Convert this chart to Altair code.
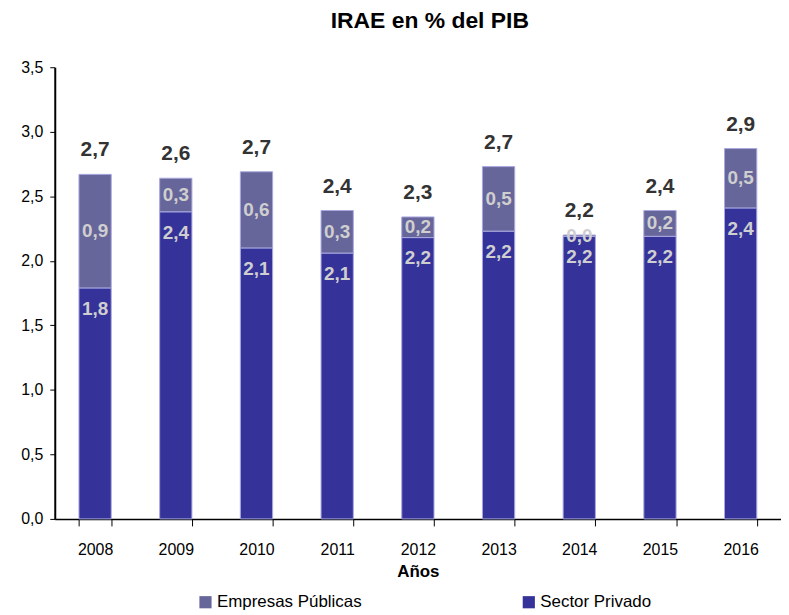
import altair as alt
import pandas as pd

years = ["2008", "2009", "2010", "2011", "2012", "2013", "2014", "2015", "2016"]
sector_privado = [1.79, 2.38, 2.10, 2.06, 2.18, 2.23, 2.19, 2.19, 2.41]
empresas_publicas = [0.88, 0.26, 0.59, 0.33, 0.16, 0.50, 0.01, 0.20, 0.46]
series_names = ["Empresas Públicas", "Sector Privado"]
series_colors = ["#67669a", "#35339a"]
y_ticks = [0, 0.5, 1.0, 1.5, 2.0, 2.5, 3.0, 3.5]

FONT = "Liberation Sans"

long_rows = []
for y, p, e in zip(years, sector_privado, empresas_publicas):
    long_rows.append({"year": y, "serie": "Sector Privado", "value": p, "ord": 0})
    long_rows.append({"year": y, "serie": "Empresas Públicas", "value": e, "ord": 1})
long_df = pd.DataFrame(long_rows)
wide_df = pd.DataFrame({"year": years, "priv": sector_privado, "pub": empresas_publicas})

x_axis = alt.Axis(
    title="Años", titleFontSize=17, titleFontWeight="bold", titleFont=FONT,
    titleColor="black", titlePadding=6,
    labelAngle=0, labelFontSize=16, labelFont=FONT, labelColor="black",
    labelPadding=16, tickBand="extent", tickSize=7, tickColor="black",
    domainColor="black", domainWidth=1.5,
)
y_axis = alt.Axis(
    title=None, values=y_ticks, grid=False,
    labelExpr="replace(format(datum.value, '.1f'), '.', ',')",
    labelFontSize=16, labelFont=FONT, labelColor="black", labelPadding=7,
    tickSize=5, tickColor="black", domainColor="black", domainWidth=2,
)
x_scale = alt.Scale(paddingInner=0.6, paddingOuter=0.3)
y_scale = alt.Scale(domain=[0, 3.5], nice=False)

bars = alt.Chart(long_df).mark_bar(stroke="#a9a8e0", strokeWidth=1).encode(
    x=alt.X("year:N", sort=years, scale=x_scale, axis=x_axis),
    y=alt.Y("value:Q", stack="zero", scale=y_scale, axis=y_axis),
    color=alt.Color(
        "serie:N",
        scale=alt.Scale(domain=series_names, range=series_colors),
        legend=alt.Legend(
            title=None, orient="none", legendX=143, legendY=529,
            direction="horizontal", labelFontSize=17, labelFont=FONT,
            labelColor="black", symbolType="square", symbolSize=150,
            symbolStrokeWidth=0, columnPadding=159, labelOffset=3,
        ),
    ),
    order=alt.Order("ord:Q"),
)

base_text = alt.Chart(wide_df).transform_calculate(
    mid="datum.priv + datum.pub / 2",
    total="datum.priv + datum.pub",
    lp="replace(format(datum.priv, '.1f'), '.', ',')",
    le="replace(format(datum.pub, '.1f'), '.', ',')",
    lt="replace(format(datum.priv + datum.pub, '.1f'), '.', ',')",
)

x_txt = alt.X("year:N", sort=years, scale=x_scale, axis=x_axis)

priv_text = base_text.mark_text(
    font=FONT, fontSize=19, fontWeight="bold", color="#cfcfcf", dy=21, baseline="middle"
).encode(
    x=x_txt,
    y=alt.Y("priv:Q", scale=y_scale, axis=y_axis),
    text=alt.Text("lp:N"),
)

pub_text = base_text.mark_text(
    font=FONT, fontSize=19, fontWeight="bold", color="#cfcfcf", baseline="middle"
).encode(
    x=x_txt,
    y=alt.Y("mid:Q", scale=y_scale, axis=y_axis),
    text=alt.Text("le:N"),
)

tot_text = base_text.mark_text(
    font=FONT, fontSize=21, fontWeight="bold", color="#333333", dy=-24, baseline="middle"
).encode(
    x=x_txt,
    y=alt.Y("total:Q", scale=y_scale, axis=y_axis),
    text=alt.Text("lt:N"),
)

chart = alt.layer(bars, priv_text, pub_text, tot_text).properties(
    width=730,
    height=454,
    title=alt.TitleParams(
        "IRAE en % del PIB", fontSize=23, fontWeight="bold", font=FONT,
        color="black", anchor="middle", dx=12, offset=26,
    ),
    autosize=alt.AutoSizeParams(type="none"),
    padding={"left": 47, "top": 58, "right": 0, "bottom": 90},
).configure_view(stroke=None)

chart.save("out.html", embed_options={"renderer": "svg", "actions": False})
